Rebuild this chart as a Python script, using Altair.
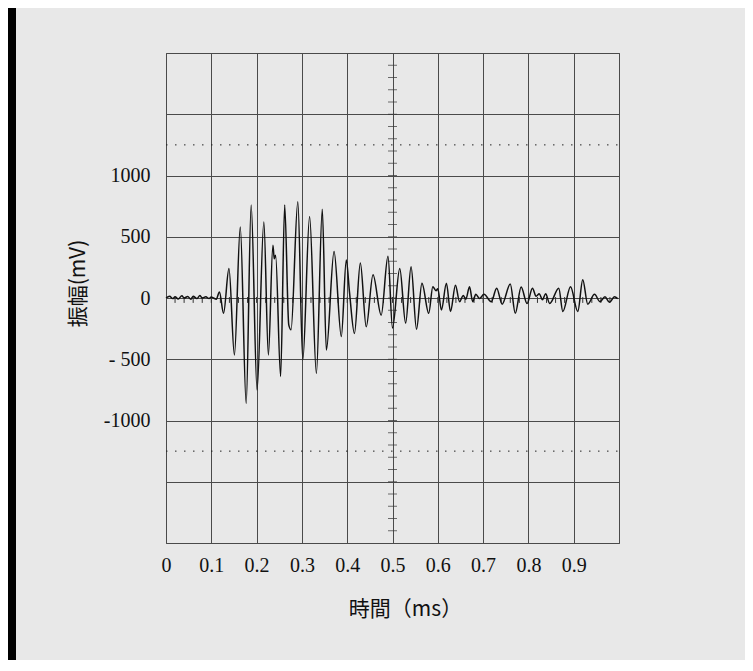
import altair as alt
import pandas as pd

# ---- data ----
time_ms = [
    0.000, 0.008, 0.015, 0.020, 0.027, 0.035, 0.040, 0.048, 0.055, 0.060,
    0.068, 0.075, 0.080, 0.088, 0.095, 0.100, 0.105, 0.111,
    0.118, 0.127, 0.139, 0.151, 0.164, 0.177, 0.188, 0.201, 0.216, 0.226,
    0.236, 0.239, 0.242, 0.253, 0.262, 0.271, 0.276, 0.291, 0.302, 0.317,
    0.332, 0.345, 0.354, 0.371, 0.387, 0.398, 0.405, 0.416, 0.429, 0.442,
    0.457, 0.475, 0.490, 0.500, 0.516, 0.529, 0.541, 0.553, 0.565, 0.580,
    0.589, 0.596, 0.600, 0.608, 0.619, 0.628, 0.639, 0.648, 0.656, 0.662,
    0.670, 0.677, 0.684, 0.692, 0.702, 0.718, 0.730, 0.742, 0.760, 0.771,
    0.784, 0.797, 0.809, 0.817, 0.824, 0.831, 0.838, 0.847, 0.867, 0.876,
    0.893, 0.909, 0.920, 0.931, 0.946, 0.958, 0.969, 0.979, 0.990, 0.997,
]
amplitude_mv = [
    0, 15, -5, 10, -8, 18, 0, 12, -10, 15,
    -5, 20, 0, 10, -5, 8, 0, -10,
    50, -125, 240, -465, 580, -860, 760, -750, 620, -465,
    430, 320, 350, -640, 760, -220, -260, 785, -505, 665,
    -615, 725, -425, 380, -315, 310, 50, -290, 285, -235,
    190, -140, 340, -245, 240, -205, 255, -255, 120, -125,
    92, 60, 75, -98, 120, -110, 105, -30, 20, -10,
    92, -30, 30, -5, 30, -30, 80, -50, 115, -125,
    90, -45, 80, 15, 35, -15, 35, -45, 80, -110,
    92, -110, 150, -50, 30, -30, 10, -35, 10, -5,
]

x_grid = [0, 0.1, 0.2, 0.3, 0.4, 0.5, 0.6, 0.7, 0.8, 0.9, 1.0]
y_grid = [-2000, -1500, -1000, -500, 0, 500, 1000, 1500, 2000]
dotted_levels = [1250, -1250]
y_minor = [v for v in range(-1900, 2000, 100)]
x_minor = [round(i * 0.02, 2) for i in range(1, 50)]

sig = pd.DataFrame({"t": time_ms, "v": amplitude_mv})
dots = pd.DataFrame({"v": dotted_levels})
ymin = pd.DataFrame({"v": y_minor, "t": [0.5] * len(y_minor)})
xmin = pd.DataFrame({"t": x_minor, "y0": [8] * len(x_minor), "y1": [-40] * len(x_minor)})

W, H = 453, 490
PL, PT, PR, PB = 158, 45, 126, 117
GRID = "#4a4a4a"

xs = alt.Scale(domain=[0, 1], nice=False, zero=False)
ys = alt.Scale(domain=[-2000, 2000], nice=False)

x_axis = alt.Axis(
    values=x_grid, grid=True, gridColor=GRID, gridOpacity=1, gridWidth=1,
    ticks=False, domain=False, labelFlush=False, labelOverlap=False,
    labelExpr="datum.value > 0.95 ? '' : (datum.value == 0 ? '0' : format(datum.value, '.1f'))",
    labelFont="Liberation Serif", labelFontSize=20, labelColor="#111",
    labelBaseline="middle", labelPadding=22,
    title="時間（ms）", titleFont="Noto Sans CJK JP", titleFontSize=21,
    titleFontWeight="normal", titleColor="#111",
    titleX=239, titleY=66, titleAlign="center", titleBaseline="middle",
)
y_axis = alt.Axis(
    values=y_grid, grid=True, gridColor=GRID, gridOpacity=1, gridWidth=1,
    ticks=False, domain=False, labelOverlap=False, labelFlush=False,
    labelExpr="abs(datum.value) > 1000 ? '' : (datum.value == -500 ? '- 500' : toString(datum.value))",
    labelFont="Liberation Serif", labelFontSize=20, labelColor="#111",
    labelAlign="right", labelBaseline="middle", labelPadding=16,
    title="振幅(mV)", titleFont="Noto Sans CJK JP", titleFontSize=21,
    titleFontWeight="normal", titleColor="#111",
    titleX=-88, titleY=230, titleAngle=270, titleAlign="center", titleBaseline="middle",
)

base = alt.Chart(sig)

left_strip = alt.Chart(pd.DataFrame({"a": [0]})).mark_rect(color="black").encode(
    x=alt.value(-PL), x2=alt.value(-PL + 8), y=alt.value(-PT), y2=alt.value(H + PB)
)

line = base.mark_line(color="#111", strokeWidth=1.5, interpolate="monotone").encode(
    x=alt.X("t:Q", scale=xs, axis=x_axis),
    y=alt.Y("v:Q", scale=ys, axis=y_axis),
)

dotted = alt.Chart(dots).mark_rule(color="#222", strokeWidth=1, strokeDash=[1.5, 7.5]).encode(
    y=alt.Y("v:Q", scale=ys), x=alt.value(0), x2=alt.value(W)
)

yticks = alt.Chart(ymin).mark_tick(orient="horizontal", size=9, thickness=1, color="#333").encode(
    x=alt.X("t:Q", scale=xs), y=alt.Y("v:Q", scale=ys)
)

xticks = alt.Chart(xmin).mark_rule(color="#333", strokeWidth=1).encode(
    x=alt.X("t:Q", scale=xs), y=alt.Y("y0:Q", scale=ys), y2="y1:Q"
)

chart = alt.layer(left_strip, dotted, yticks, xticks, line).properties(
    width=W, height=H,
    autosize=alt.AutoSizeParams(type="none"),
    padding={"left": PL, "top": PT, "right": PR, "bottom": PB},
    background="#e8e8e8",
).configure_view(stroke=GRID, strokeWidth=1)

chart.save("out.html", embed_options={"renderer": "svg", "actions": False})
